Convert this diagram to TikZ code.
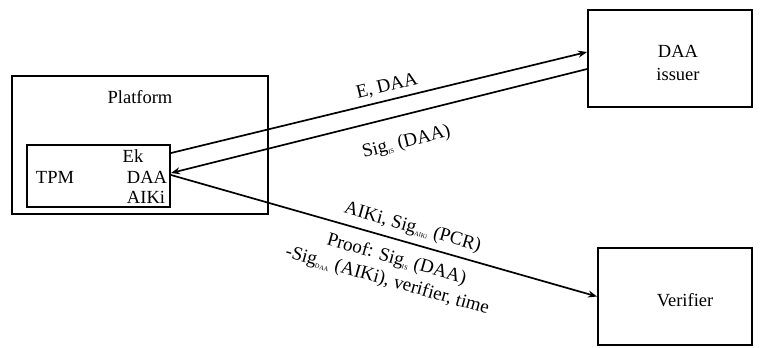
\documentclass[tikz,border=0pt]{standalone}
\usepackage{fontspec}
\setmainfont{Liberation Serif}
\usetikzlibrary{arrows.meta}
\newcommand\mysub[1]{\textsubscript{\fontsize{6.5}{6.5}\selectfont #1}}
\begin{document}
\begin{tikzpicture}[x=1pt,y=-1pt,
  box/.style={draw, line width=2pt, rectangle, inner sep=0pt},
  txt/.style={inner sep=0pt, font=\fontsize{18.5}{20}\selectfont},
  lbl/.style={inner sep=0pt, sloped, font=\fontsize{19}{23.5}\selectfont},
  conn/.style={line width=1.7pt},
  tip/.style={-{Stealth[length=9pt,width=7pt]}}]
\useasboundingbox (0,0) rectangle (764,348);
\fill[white] (0,0) rectangle (764,348);
% boxes
\node[box, minimum width=256pt, minimum height=138pt] (plat) at (140,145) {};
\node[box, minimum width=143pt, minimum height=62pt] (tpm) at (98.5,176) {};
\node[box, minimum width=164pt, minimum height=97pt] (iss) at (670,58.5) {};
\node[box, minimum width=154pt, minimum height=97pt] (ver) at (675,296.5) {};
% texts
\node[txt] (tplat) at (140,97) {Platform};
\node[txt] (ttpm) at (55,177) {TPM};
\node[txt] (tek) at (133,156) {Ek};
\node[txt] (tdaa) at (147,177) {DAA};
\node[txt] (taik) at (146,197) {AIKi};
\node[txt, align=center, font=\fontsize{18.5}{23}\selectfont] (tiss) at (678,63) {DAA\\issuer};
\node[txt] (tver) at (685,300) {Verifier};
% connectors
\draw[conn, tip] ([yshift=23pt]tpm.east) -- ([yshift=6.5pt]iss.west)
  node[lbl, pos=0.527, above=5pt] (l1) {E, DAA};
\draw[conn, {Stealth[length=9pt,width=7pt]}-] ([yshift=3pt]tpm.east) -- ([yshift=-10.5pt]iss.west)
  node[lbl, pos=0.55, below=18pt] (l2) {Sig\mysub{IS} (DAA)};
\draw[conn, tip] ([yshift=1pt]tpm.east) -- (ver.west)
  node[lbl, pos=0.557, above=6pt] (l3) {AIKi, Sig\mysub{AIKi} (PCR)}
  node[lbl, pos=0.542, below=10pt] (l4) {Proof: Sig\mysub{IS} (DAA)}
  node[lbl, pos=0.535, below=33pt] (l5) {-Sig\mysub{DAA} (AIKi), verifier, time};
\end{tikzpicture}
\end{document}
